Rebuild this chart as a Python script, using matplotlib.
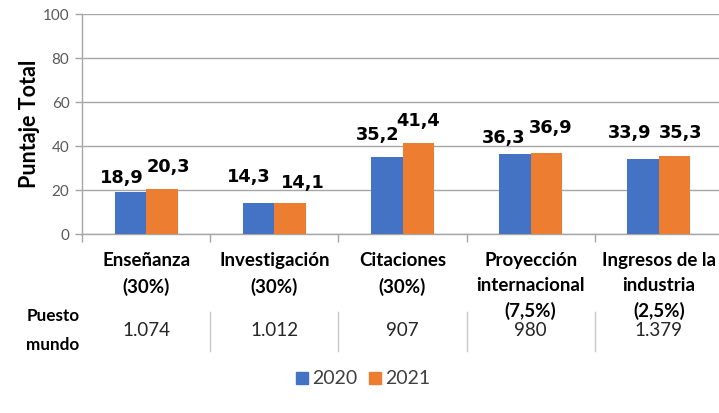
import matplotlib
matplotlib.use("Agg")
import matplotlib.pyplot as plt
from matplotlib.patches import Rectangle

categories = ["Enseñanza\n(30%)", "Investigación\n(30%)", "Citaciones\n(30%)",
              "Proyección\ninternacional\n(7,5%)", "Ingresos de la\nindustria\n(2,5%)"]
values_2020 = [18.9, 14.3, 35.2, 36.3, 33.9]
values_2021 = [20.3, 14.1, 41.4, 36.9, 35.3]
puesto_mundo = ["1.074", "1.012", "907", "980", "1.379"]
series_names = ["2020", "2021"]
yticks = [0, 20, 40, 60, 80, 100]

# label offsets (pixels) relative to bar top center
off_2020 = [(-9, 9), (-10, 21), (-9, 17), (-11, 11), (-14, 21)]
off_2021 = [(7, 17), (13, 15), (0, 17), (4, 20), (6, 18)]

BLUE = "#4472C4"
ORANGE = "#ED7D31"
GRID = "#A6A6A6"
TXT = "#000000"

fig = plt.figure(figsize=(7.19, 4.13), dpi=100)
W, H = 719, 413
def fx(px): return px / W
def fy(py): return 1 - py / H

ax = fig.add_axes([fx(82), fy(234), fx(723) - fx(82), fy(14) - fy(234)])
n = len(categories)
x = list(range(n))
bw = 0.245
b1 = ax.bar([i - bw / 2 for i in x], values_2020, bw, color=BLUE, zorder=3)
b2 = ax.bar([i + bw / 2 for i in x], values_2021, bw, color=ORANGE, zorder=3)

def fmt(v):
    return f"{v:.1f}".replace(".", ",")

for bars, vals, offs in ((b1, values_2020, off_2020), (b2, values_2021, off_2021)):
    for r, v, (dx, dy) in zip(bars, vals, offs):
        ax.annotate(fmt(v), (r.get_x() + r.get_width() / 2, v),
                    xytext=(dx, dy), textcoords="offset pixels",
                    ha="center", va="baseline", fontsize=12.8,
                    fontweight="bold", family="DejaVu Sans", color=TXT)

ax.set_xlim(-0.5, n - 0.5)
ax.set_ylim(0, 100)
ax.set_yticks(yticks)
ax.set_yticklabels([str(t) for t in yticks], family="Lato", fontsize=11, color="#595959")
ax.yaxis.grid(True, color=GRID, linewidth=1.0, zorder=0)
ax.tick_params(axis="y", length=5, color=GRID, width=1.0, pad=4)
ax.set_xticks([i + 0.5 for i in range(-1, n - 1)])
ax.set_xticklabels([])
ax.tick_params(axis="x", length=6, color=GRID, width=1.0)
for s in ("top", "right"):
    ax.spines[s].set_visible(False)
for s in ("left", "bottom"):
    ax.spines[s].set_color(GRID)
    ax.spines[s].set_linewidth(1.0)

ax.set_ylabel("Puntaje Total", family="Lato", fontweight="bold", fontsize=15.5, color=TXT, labelpad=2)

# category labels
for i, c in enumerate(categories):
    ax.annotate(c, (i, 0), xycoords="data", xytext=(0, -18), textcoords="offset pixels",
                ha="center", va="top", fontsize=13.5, fontweight="bold", family="Lato",
                color=TXT, linespacing=1.56, annotation_clip=False)

# table row: Puesto mundo
fig.text(fx(53), fy(330.5), "Puesto\nmundo", ha="center", va="center", fontsize=12.3,
         fontweight="bold", family="Lato", color=TXT, linespacing=2.0)
trans = matplotlib.transforms.blended_transform_factory(ax.transData, fig.transFigure)
for i, p in enumerate(puesto_mundo):
    fig.text(0, 0, p, transform=trans, ha="center", va="center", fontsize=13.5,
             family="Lato", color="#262626").set_position((i, fy(331)))
for i in range(n - 1):
    ax.plot([i + 0.5, i + 0.5], [fy(312), fy(351)], transform=trans, color="#C8C8C8",
            linewidth=1.0, clip_on=False)

# legend
for (name, col, px) in ((series_names[0], BLUE, 296), (series_names[1], ORANGE, 369)):
    fig.patches.append(Rectangle((fx(px), fy(384)), fx(12), 12 / H, transform=fig.transFigure,
                                 color=col))
    fig.text(fx(px + 16), fy(378), name, ha="left", va="center", fontsize=14,
             family="Lato", color="#404040")

fig.savefig("out.png", dpi=100)
